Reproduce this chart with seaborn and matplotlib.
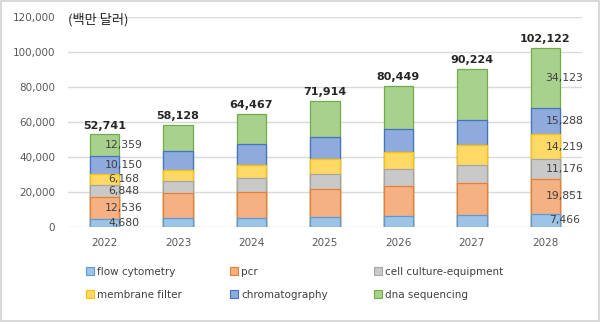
import numpy as np
import pandas as pd
import matplotlib
matplotlib.use("Agg")
import matplotlib.pyplot as plt
import seaborn as sns
from matplotlib.patches import Patch

years = ["2022", "2023", "2024", "2025", "2026", "2027", "2028"]
series_names = ["flow cytometry", "pcr", "cell culture-equipment",
                "membrane filter", "chromatography", "dna sequencing"]
flow_cytometry = [4680, 4900, 5140, 5520, 5900, 6480, 7466]
pcr = [12536, 14170, 14860, 16010, 17530, 18670, 19851]
cell_culture = [6848, 6860, 8000, 8760, 9530, 10090, 11176]
membrane_filter = [6168, 6470, 7050, 8570, 9520, 11430, 14219]
chromatography = [10150, 11050, 12000, 12380, 13340, 14480, 15288]
dna_sequencing = [12359, 14678, 17417, 20674, 24629, 29074, 34123]
totals = [52741, 58128, 64467, 71914, 80449, 90224, 102122]
unit_label = "(백만 달러)"

fills = ["#9DC3E6", "#F4B183", "#C9C9C9", "#FFD966", "#8FAADC", "#A9D18E"]
edges = ["#5B9BD5", "#ED7D31", "#A5A5A5", "#FFC000", "#4472C4", "#70AD47"]

sns.set_theme(style="white")
plt.rcParams["font.family"] = ["DejaVu Sans", "Noto Sans CJK KR"]

series = [flow_cytometry, pcr, cell_culture, membrane_filter, chromatography, dna_sequencing]
df = pd.DataFrame({"year": years})
for name, vals in zip(series_names, series):
    df[name] = vals
cum = df[series_names].cumsum(axis=1)

fig = plt.figure(figsize=(6.0, 3.22), dpi=100)
fig.patch.set_facecolor("white")
fig.patch.set_edgecolor("#D9D9D9")
fig.patch.set_linewidth(1.5)
ax = fig.add_axes([0.113, 0.296, 0.857, 0.652])

for i in range(len(series_names) - 1, -1, -1):
    sns.barplot(x=df["year"], y=cum[series_names[i]], ax=ax, color=fills[i],
                saturation=1, width=0.4, edgecolor=edges[i], linewidth=0.9,
                zorder=3)

ax.set_ylim(0, 120000)
ax.set_yticks(np.arange(0, 120001, 20000))
ax.set_yticklabels([f"{v:,}" for v in range(0, 120001, 20000)])
ax.yaxis.grid(True, color="#D9D9D9", linewidth=1.0, zorder=0)
ax.set_axisbelow(True)
for s in ax.spines.values():
    s.set_visible(False)
ax.tick_params(axis="both", length=0, labelsize=7.5, colors="#595959")
ax.tick_params(axis="y", pad=9)
ax.tick_params(axis="x", pad=8)
ax.set_xlabel("")
ax.set_ylabel("")

# totals
for i, t in enumerate(totals):
    ax.text(i, t + 2200, f"{t:,}", ha="center", va="bottom", fontsize=8,
            fontweight="bold", color="#262626")

# segment labels for first and last year
for idx in [0, len(years) - 1]:
    bottom = 0
    for k, vals in enumerate(series):
        v = vals[idx]
        ax.text(idx + 0.26, bottom + v / 2, f"{v:,}", ha="center", va="center",
                fontsize=7.8, color="#404040", zorder=5)
        bottom += v

ax.text(0.0, 118500, unit_label, transform=ax.get_yaxis_transform(),
        ha="left", va="center", fontsize=9.5, color="#262626",
        family=["Noto Sans CJK KR", "DejaVu Sans"])

# legend in three columns
col_entries = [[0, 3], [1, 4], [2, 5]]
col_x = [0.143, 0.383, 0.623]
for cx, ents in zip(col_x, col_entries):
    handles = [Patch(facecolor=fills[k], edgecolor=edges[k], linewidth=0.8,
                     label=series_names[k]) for k in ents]
    leg = fig.legend(handles=handles, loc="upper left",
                     bbox_to_anchor=(cx, 0.172), frameon=False, fontsize=7.5,
                     handlelength=0.75, handleheight=0.75, handletextpad=0.35,
                     labelspacing=1.25, borderaxespad=0, borderpad=0)
    for txt in leg.get_texts():
        txt.set_color("#404040")

fig.savefig("out.png", dpi=100, facecolor=fig.get_facecolor(),
            edgecolor=fig.get_edgecolor())
